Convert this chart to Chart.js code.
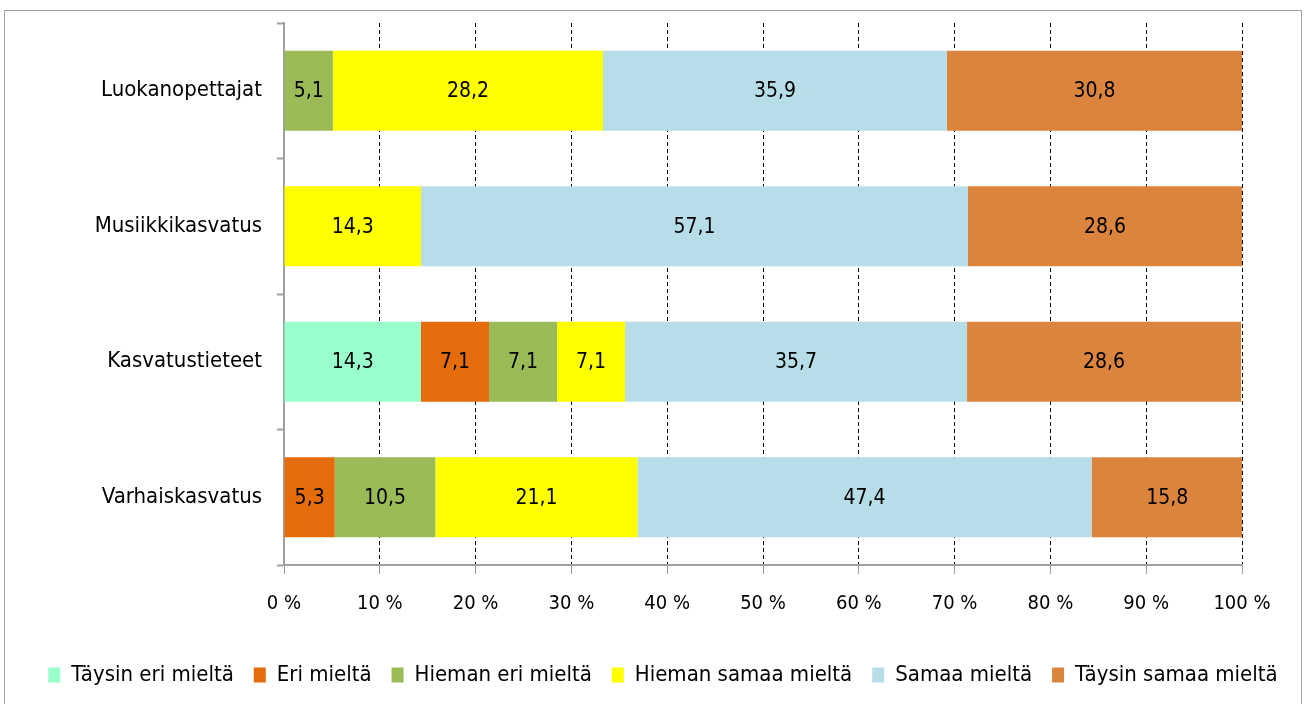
<!DOCTYPE html>
<html>
<head>
<meta charset="utf-8">
<script src="https://cdn.jsdelivr.net/npm/chart.js@4.4.1/dist/chart.umd.min.js"></script>
<style>
  html, body { margin: 0; padding: 0; background: #fff; }
  #wrap { width: 1304px; height: 704px; }
</style>
</head>
<body>
<div id="wrap"><canvas id="chart" width="1304" height="704"></canvas></div>
<script>
// Data
const categories = ["Luokanopettajat", "Musiikkikasvatus", "Kasvatustieteet", "Varhaiskasvatus"];
const seriesNames = ["Täysin eri mieltä", "Eri mieltä", "Hieman eri mieltä", "Hieman samaa mieltä", "Samaa mieltä", "Täysin samaa mieltä"];
const taysinEri = [0, 0, 14.3, 0];
const eri = [0, 0, 7.1, 5.3];
const hiemanEri = [5.1, 0, 7.1, 10.5];
const hiemanSamaa = [28.2, 14.3, 7.1, 21.1];
const samaa = [35.9, 57.1, 35.7, 47.4];
const taysinSamaa = [30.8, 28.6, 28.6, 15.8];
const xTicks = [0, 10, 20, 30, 40, 50, 60, 70, 80, 90, 100];

const colors = ["#99FFCC", "#E46C0A", "#9BBB59", "#FFFF00", "#B7DEE8", "#DB843E"];
const values = [taysinEri, eri, hiemanEri, hiemanSamaa, samaa, taysinSamaa];
const FONT = "'Liberation Sans Narrow', 'Arial Narrow', 'DejaVu Sans Condensed', Roboto, sans-serif";

Chart.defaults.font.family = FONT;
Chart.defaults.color = "#000";

// frame round the chart
const framePlugin = {
  id: "frame",
  beforeDraw(chart) {
    const ctx = chart.ctx;
    ctx.save();
    ctx.fillStyle = "#fff";
    ctx.fillRect(0, 0, chart.width, chart.height);
    ctx.strokeStyle = "#A0A0A0";
    ctx.lineWidth = 1;
    ctx.strokeRect(4.5, 10.5, 1297, 720);
    ctx.restore();
  },
};

// value labels in the middle of each segment
const valueLabels = {
  id: "valueLabels",
  afterDatasetsDraw(chart) {
    const ctx = chart.ctx;
    ctx.save();
    ctx.font = "21px " + FONT;
    ctx.fillStyle = "#000";
    ctx.textAlign = "center";
    ctx.textBaseline = "middle";
    chart.data.datasets.forEach((ds, i) => {
      chart.getDatasetMeta(i).data.forEach((bar, j) => {
        const v = ds.data[j];
        if (!v) return;
        const p = bar.getCenterPoint();
        ctx.fillText(v.toFixed(1).replace(".", ","), p.x, p.y + 1);
      });
    });
    ctx.restore();
  },
};

new Chart(document.getElementById("chart"), {
  type: "bar",
  data: {
    labels: categories,
    datasets: seriesNames.map((name, i) => ({
      label: name,
      data: values[i],
      backgroundColor: colors[i],
      borderWidth: 0,
      categoryPercentage: 1,
      barPercentage: 0.59,
    })),
  },
  options: {
    indexAxis: "y",
    responsive: false,
    animation: false,
    layout: { padding: { top: 23, right: 0, left: 22, bottom: 8 } },
    scales: {
      x: {
        stacked: true,
        min: 0,
        max: 100,
        afterBuildTicks(scale) {
          scale.ticks = xTicks.map((v) => ({ value: v }));
        },
        afterFit(scale) {
          scale.height = 79;
        },
        ticks: {
          callback: (v) => v + " %",
          font: { size: 20 },
          padding: 18,
          maxRotation: 0,
        },
        grid: {
          color: "#000",
          tickColor: "#A0A0A0",
          tickLength: 9,
          tickBorderDash: [],
        },
        border: { display: true, color: "#A0A0A0", width: 2, dash: [4, 3] },
      },
      y: {
        stacked: true,
        afterFit(scale) {
          scale.width = 284 - 22;
          scale.paddingTop = 0;
          scale.paddingBottom = 0;
        },
        ticks: { font: { size: 22 }, padding: 15 },
        grid: {
          offset: true,
          drawOnChartArea: false,
          tickColor: "#A0A0A0",
          tickLength: 7,
          tickWidth: 2,
        },
        border: { display: true, color: "#A0A0A0", width: 2 },
      },
      // empty space on the right of the plot
      yRight: {
        type: "linear",
        position: "right",
        afterFit(scale) {
          scale.width = 62;
          scale.paddingTop = 0;
          scale.paddingBottom = 0;
        },
        ticks: { display: false },
        grid: { display: false },
        border: { display: false },
      },
    },
    plugins: {
      legend: {
        position: "bottom",
        labels: {
          font: { size: 22 },
          boxWidth: 12,
          boxHeight: 15,
          padding: 20,
        },
      },
      tooltip: { enabled: false },
    },
  },
  plugins: [framePlugin, valueLabels],
});
</script>
</body>
</html>
